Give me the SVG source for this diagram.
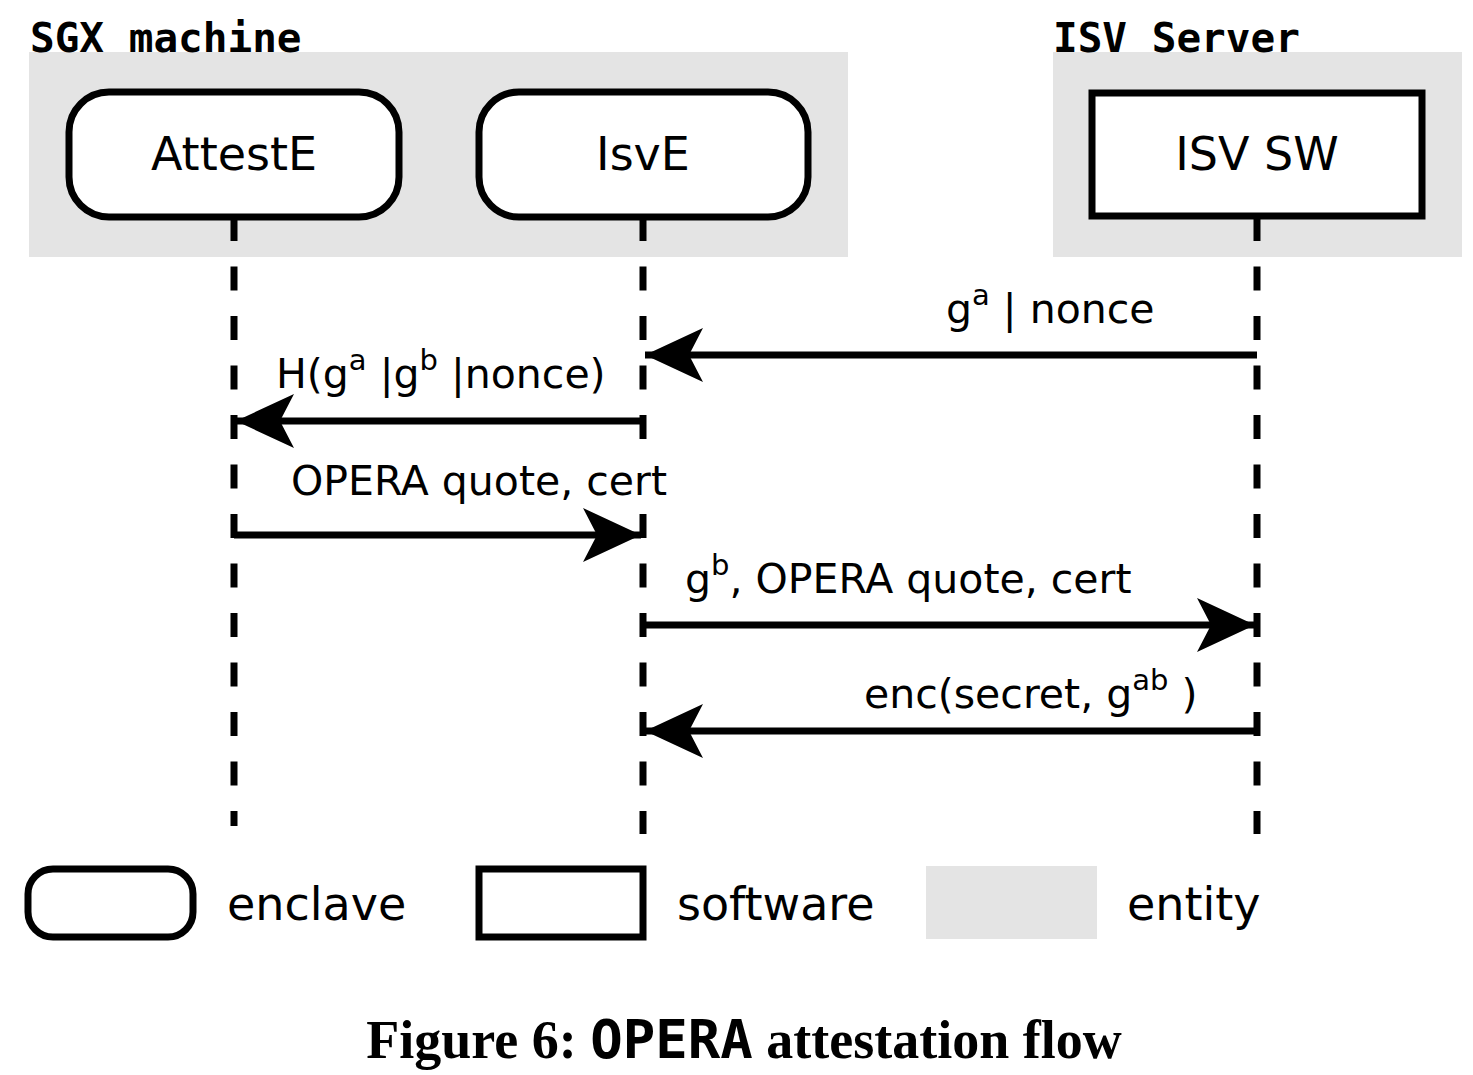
<svg xmlns="http://www.w3.org/2000/svg" width="1473" height="1075" viewBox="0 0 1473 1075">
<defs>
<style>
.entity{fill:#e4e4e4;}
.enclave{fill:#fff;stroke:#000;stroke-width:7;}
.sw{fill:#fff;stroke:#000;stroke-width:7;}
.life{stroke:#000;stroke-width:7;stroke-dasharray:24 25.5;fill:none;}
.msg{stroke:#000;stroke-width:7;fill:none;}
.lbl{font-family:"DejaVu Sans",sans-serif;font-size:41px;fill:#000;}
.big{font-size:46px;}
.sup{font-size:29px;}
.title{font-family:"DejaVu Sans Mono",monospace;font-weight:bold;font-size:41px;fill:#000;}
.cap{font-family:"Liberation Serif",serif;font-weight:bold;font-size:54px;fill:#000;}
.capmono{font-family:"DejaVu Sans Mono",monospace;font-weight:bold;}
</style>
<marker id="ah" markerUnits="userSpaceOnUse" viewBox="-60 -30 62 60" refX="0" refY="0" markerWidth="62" markerHeight="60" orient="auto">
<path d="M0,0 L-58,-27 L-44,0 L-58,27 Z" fill="#000"/>
</marker>
</defs>
<rect width="1473" height="1075" fill="#fff"/>

<g id="sgx-machine">
<rect class="entity" x="29" y="52" width="819" height="205"/>
<text class="title" x="30" y="52">SGX machine</text>
</g>
<g id="isv-server">
<rect class="entity" x="1053" y="52" width="409" height="205"/>
<text class="title" x="1053" y="52">ISV Server</text>
</g>

<g id="lifelines">
<line class="life" x1="234" y1="217" x2="234" y2="826"/>
<line class="life" x1="643" y1="217" x2="643" y2="834"/>
<line class="life" x1="1257" y1="217" x2="1257" y2="834"/>
</g>

<g id="attestE">
<rect class="enclave" x="69" y="92" width="330" height="125" rx="40" ry="40"/>
<text class="lbl big" x="234" y="170" text-anchor="middle">AttestE</text>
</g>
<g id="isvE">
<rect class="enclave" x="479" y="92" width="329" height="125" rx="40" ry="40"/>
<text class="lbl big" x="643" y="170" text-anchor="middle">IsvE</text>
</g>
<g id="isvSW">
<rect class="sw" x="1092" y="93" width="330" height="123"/>
<text class="lbl big" x="1257" y="170" text-anchor="middle">ISV SW</text>
</g>

<g id="connectors">
<line class="msg" x1="1257" y1="355" x2="645" y2="355" marker-end="url(#ah)"/>
<line class="msg" x1="643" y1="421" x2="236" y2="421" marker-end="url(#ah)"/>
<line class="msg" x1="234" y1="535" x2="641" y2="535" marker-end="url(#ah)"/>
<line class="msg" x1="643" y1="625" x2="1255" y2="625" marker-end="url(#ah)"/>
<line class="msg" x1="1257" y1="731" x2="645" y2="731" marker-end="url(#ah)"/>
</g>

<g id="labels">
<text class="lbl" x="946" y="323">g<tspan class="sup" dy="-18">a</tspan><tspan dy="18"> | nonce</tspan></text>
<text class="lbl" x="276" y="388">H(g<tspan class="sup" dy="-18">a</tspan><tspan dy="18"> |g</tspan><tspan class="sup" dy="-18">b</tspan><tspan dy="18"> |nonce)</tspan></text>
<rect x="286" y="452" width="392" height="52" fill="#fff"/>
<text class="lbl" x="291" y="495">OPERA quote, cert</text>
<text class="lbl" x="685" y="593">g<tspan class="sup" dy="-18">b</tspan><tspan dy="18">, OPERA quote, cert</tspan></text>
<text class="lbl" x="864" y="708">enc(secret, g<tspan class="sup" dy="-18">ab</tspan><tspan dy="18"> )</tspan></text>
</g>

<g id="legend">
<rect class="enclave" x="28" y="869" width="165" height="68" rx="25" ry="25"/>
<text class="lbl big" x="227" y="920">enclave</text>
<rect class="sw" x="479" y="869" width="164" height="68"/>
<text class="lbl big" x="677" y="920">software</text>
<rect class="entity" x="926" y="866" width="171" height="73"/>
<text class="lbl big" x="1127" y="920">entity</text>
</g>

<g id="caption">
<text class="cap" x="744" y="1058" text-anchor="middle">Figure 6: <tspan class="capmono">OPERA</tspan> attestation flow</text>
</g>
</svg>
